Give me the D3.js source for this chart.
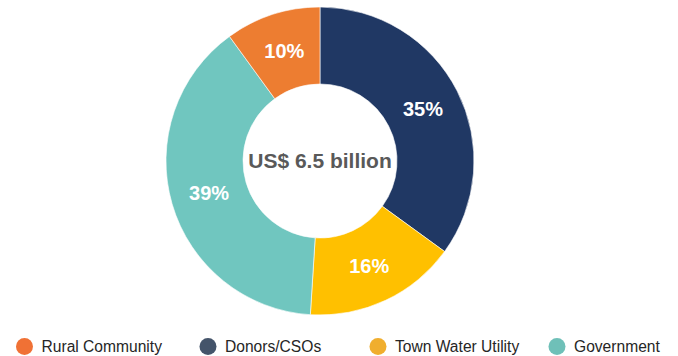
<!DOCTYPE html>
<html>
<head>
<meta charset="utf-8">
<script src="https://cdn.jsdelivr.net/npm/d3@7"></script>
<style>
  html, body { margin: 0; padding: 0; background: #fff; }
  svg { display: block; font-family: "Liberation Sans", Arial, sans-serif; }
</style>
</head>
<body>
<svg id="chart" width="678" height="356"></svg>
<script>
// Funding sources (share of total, %) in drawing order, clockwise from 12 o'clock
const sliceNames  = ["Donors/CSOs", "Town Water Utility", "Government", "Rural Community"];
const sliceValues = [35, 16, 39, 10];
const sliceColors = ["#203864", "#FFC000", "#70C6BF", "#ED7D31"];

// Legend order and swatch colours
const legendNames  = ["Rural Community", "Donors/CSOs", "Town Water Utility", "Government"];
const legendColors = ["#F07135", "#44546A", "#F0AE2E", "#6FC0B8"];
const legendX      = [24.5, 208, 378, 557];

const totalLabel = "US$ 6.5 billion";

const svg = d3.select("#chart");
const cx = 320, cy = 161, outerR = 154, innerR = 77;

const pie = d3.pie().value(d => d.value).sort(null);
const arc = d3.arc().innerRadius(innerR).outerRadius(outerR);
const data = sliceNames.map((n, i) => ({ name: n, value: sliceValues[i], color: sliceColors[i] }));
const arcs = pie(data);

const g = svg.append("g").attr("transform", `translate(${cx},${cy})`);

g.selectAll("path.slice")
  .data(arcs)
  .join("path")
  .attr("class", "slice")
  .attr("d", arc)
  .attr("fill", d => d.data.color)
  .attr("stroke", "#fff")
  .attr("stroke-width", 0.6);

g.selectAll("text.pct")
  .data(arcs)
  .join("text")
  .attr("class", "pct")
  .attr("transform", d => `translate(${arc.centroid(d)})`)
  .attr("text-anchor", "middle")
  .attr("dy", "0.36em")
  .attr("fill", "#fff")
  .attr("font-weight", "bold")
  .attr("font-size", 20)
  .text(d => d.data.value + "%");

g.append("text")
  .attr("text-anchor", "middle")
  .attr("y", 7)
  .attr("fill", "#595959")
  .attr("font-weight", "bold")
  .attr("font-size", 21)
  .text(totalLabel);

// Legend row
const legend = svg.append("g").attr("transform", "translate(0,346.5)");
const items = legend.selectAll("g.item")
  .data(legendNames)
  .join("g")
  .attr("class", "item")
  .attr("transform", (d, i) => `translate(${legendX[i]},0)`);

items.append("circle")
  .attr("r", 8.5)
  .attr("fill", (d, i) => legendColors[i]);

items.append("text")
  .attr("x", 17)
  .attr("dy", "0.35em")
  .attr("font-size", 15.6)
  .attr("fill", "#262626")
  .text(d => d);
</script>
</body>
</html>
